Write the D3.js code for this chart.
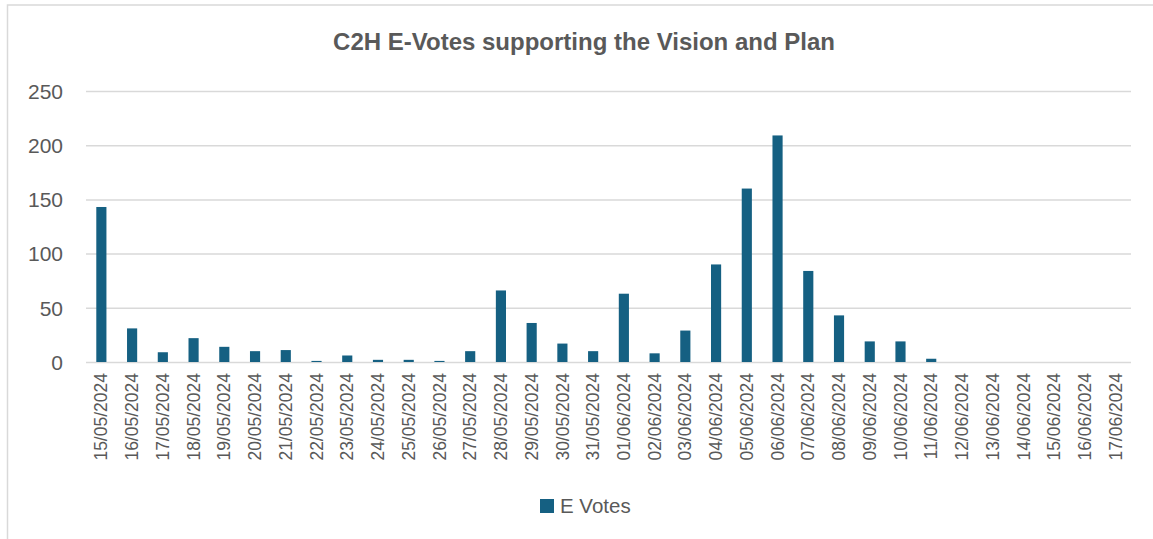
<!DOCTYPE html>
<html>
<head>
<meta charset="utf-8">
<script src="https://cdn.jsdelivr.net/npm/d3@7"></script>
<style>
  body { margin: 0; background: #fff; }
  text { font-family: "Liberation Sans", Arial, sans-serif; fill: #595959; }
</style>
</head>
<body>
<div id="chart"></div>
<script>
// dados
const dates = [
    "15/05/2024", "16/05/2024", "17/05/2024", "18/05/2024", "19/05/2024", "20/05/2024",
    "21/05/2024", "22/05/2024", "23/05/2024", "24/05/2024", "25/05/2024", "26/05/2024",
    "27/05/2024", "28/05/2024", "29/05/2024", "30/05/2024", "31/05/2024", "01/06/2024",
    "02/06/2024", "03/06/2024", "04/06/2024", "05/06/2024", "06/06/2024", "07/06/2024",
    "08/06/2024", "09/06/2024", "10/06/2024", "11/06/2024", "12/06/2024", "13/06/2024",
    "14/06/2024", "15/06/2024", "16/06/2024", "17/06/2024"
];
const eVotes = [
    143, 31, 9, 22, 14, 10,
    11, 1, 6, 2, 2, 1,
    10, 66, 36, 17, 10, 63,
    8, 29, 90, 160, 209, 84,
    43, 19, 19, 3, 0, 0,
    0, 0, 0, 0
];
const yTicks = [0, 50, 100, 150, 200, 250];
const seriesName = "E Votes";
const chartTitle = "C2H E-Votes supporting the Vision and Plan";

const width = 1153, height = 539;
const margin = { left: 86, right: 22, top: 91, bottom: 177 };
const barColor = "#156082";

var svg = d3.select("#chart")
    .append("svg")
    .attr("width", width)
    .attr("height", height);

// moldura cinza clara do gráfico
svg.append("rect")
    .attr("x", 7.5)
    .attr("y", 5)
    .attr("width", width + 20)
    .attr("height", height + 20)
    .attr("fill", "none")
    .attr("stroke", "#d9d9d9")
    .attr("stroke-width", 1.5);

const x = d3.scaleBand()
    .domain(dates)
    .range([margin.left, width - margin.right])
    .paddingInner(0.67)
    .paddingOuter(0.335);

const y = d3.scaleLinear()
    .domain([0, 250])
    .range([height - margin.bottom, margin.top]);

// linhas de grade
const yAxis = svg.append("g")
    .attr("transform", "translate(" + margin.left + ",0)")
    .call(d3.axisLeft(y).tickValues(yTicks).tickSize(-(width - margin.left - margin.right)).tickPadding(23));
yAxis.select(".domain").remove();
yAxis.selectAll(".tick line").attr("stroke", "#d9d9d9").attr("stroke-width", 1.5);
yAxis.selectAll(".tick text").style("font-size", "21px").attr("dy", "0.35em");

// barras
svg.append("g")
    .selectAll("rect")
    .data(eVotes)
    .join("rect")
    .attr("x", (d, i) => x(dates[i]))
    .attr("y", d => y(d))
    .attr("width", x.bandwidth())
    .attr("height", d => y(0) - y(d))
    .attr("fill", barColor);

// rótulos do eixo x (datas, giradas)
const xAxis = svg.append("g")
    .attr("transform", "translate(0," + y(0) + ")")
    .call(d3.axisBottom(x).tickSize(0).tickPadding(0));
xAxis.select(".domain").remove();
xAxis.selectAll(".tick text")
    .attr("transform", "rotate(-90)")
    .attr("text-anchor", "end")
    .attr("x", -11)
    .attr("y", 0)
    .attr("dy", "0.35em")
    .style("font-size", "17.5px");

// título
svg.append("text")
    .attr("x", 584)
    .attr("y", 50)
    .attr("text-anchor", "middle")
    .style("font-size", "24px")
    .style("font-weight", "bold")
    .text(chartTitle);

// legenda
const legend = svg.append("g").attr("transform", "translate(540,499)");
legend.append("rect")
    .attr("width", 14)
    .attr("height", 14)
    .attr("fill", barColor);
legend.append("text")
    .attr("x", 20)
    .attr("y", 7)
    .attr("dy", "0.35em")
    .style("font-size", "20.5px")
    .text(seriesName);
</script>
</body>
</html>
